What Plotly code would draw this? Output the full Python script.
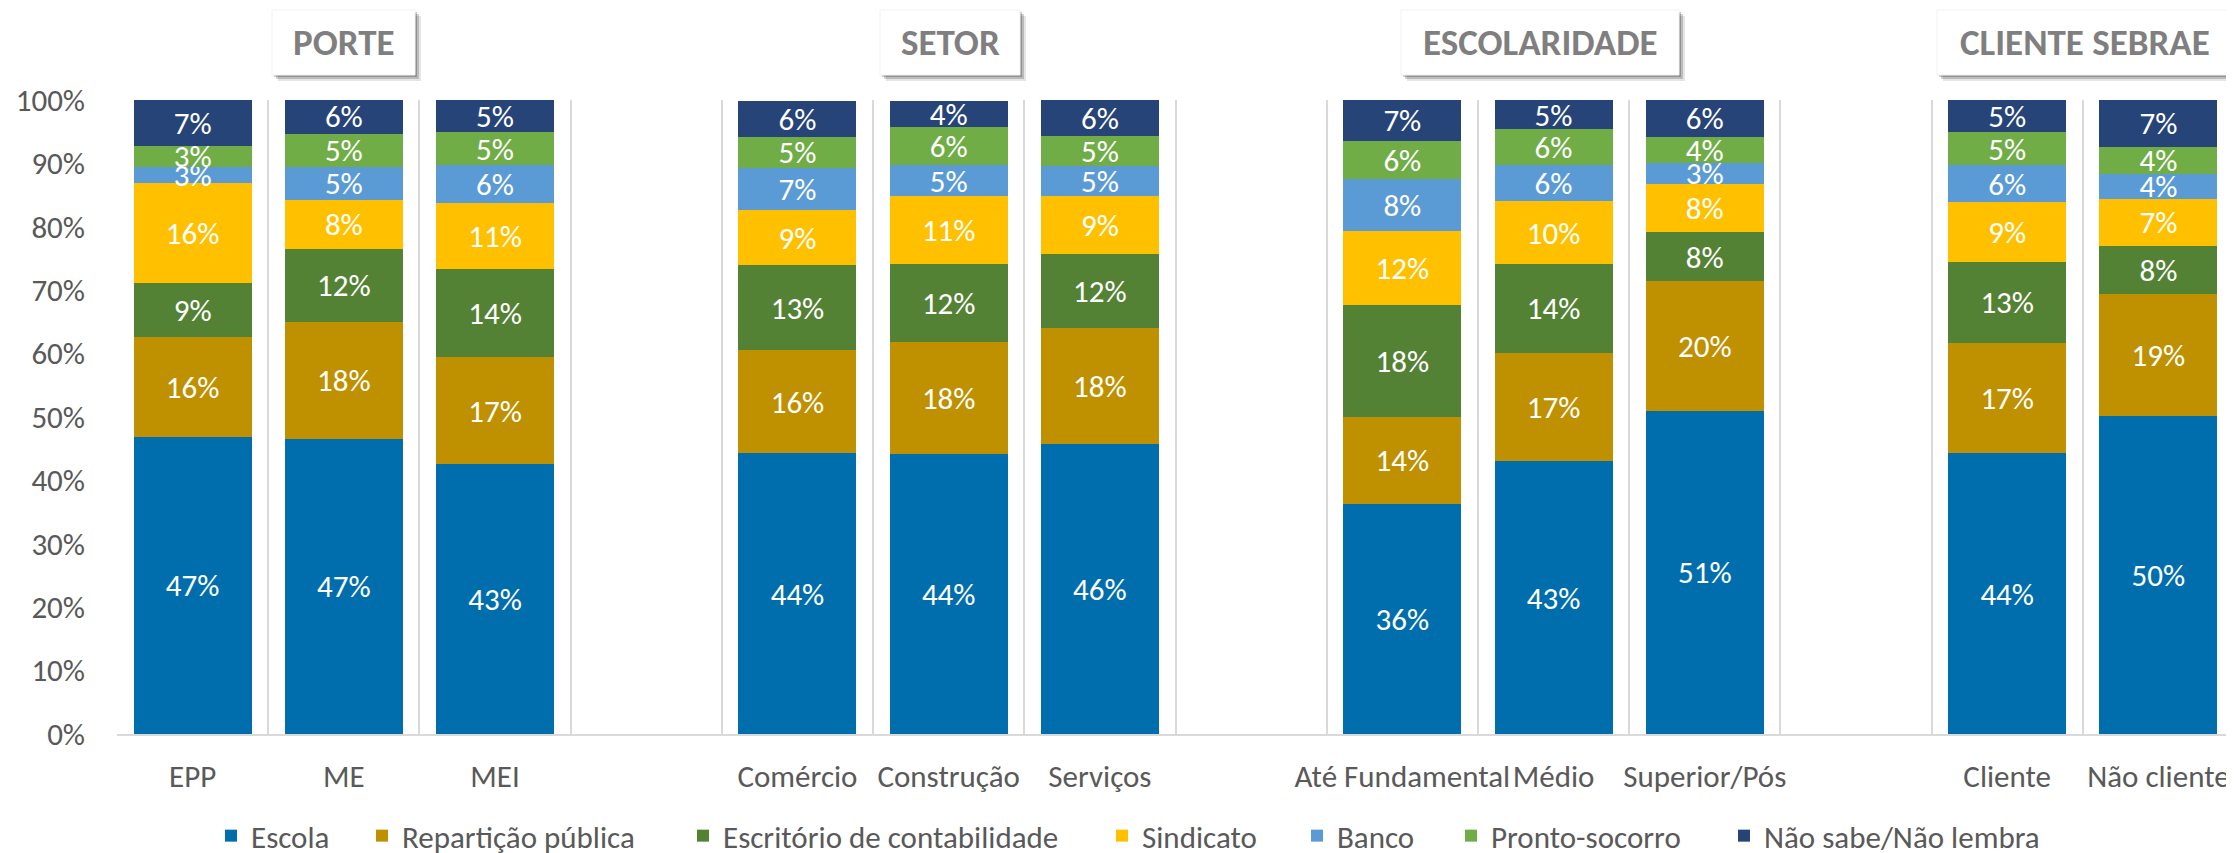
import plotly.graph_objects as go

# ---------------- data ----------------
categories = ["EPP", "ME", "MEI", " ", "Comércio", "Construção", "Serviços", "  ",
              "Até Fundamental", "Médio", "Superior/Pós", "   ", "Cliente", "Não cliente"]

escola = [46.9, 46.6, 42.6, None, 44.3, 44.1, 45.7, None, 36.3, 43.0, 51.0, None, 44.3, 50.1]
reparticao = [15.7, 18.4, 16.8, None, 16.2, 17.7, 18.3, None, 13.7, 17.1, 20.4, None, 17.4, 19.3]
escritorio = [8.6, 11.5, 13.9, None, 13.4, 12.4, 11.7, None, 17.6, 14.1, 7.8, None, 12.8, 7.6]
sindicato = [15.7, 7.8, 10.5, None, 8.8, 10.7, 9.2, None, 11.7, 9.8, 7.6, None, 9.4, 7.4]
banco = [2.6, 5.2, 5.9, None, 6.6, 4.8, 4.7, None, 8.2, 5.8, 3.3, None, 5.8, 4.0]
pronto_socorro = [3.3, 5.1, 5.2, None, 4.9, 6.0, 4.7, None, 6.1, 5.6, 4.1, None, 5.2, 4.2]
nao_sabe = [7.2, 5.6, 5.1, None, 5.7, 4.2, 5.7, None, 6.6, 4.6, 5.8, None, 5.1, 7.4]

series_names = ["Escola", "Repartição pública", "Escritório de contabilidade", "Sindicato",
                "Banco", "Pronto-socorro", "Não sabe/Não lembra"]
series_values = [escola, reparticao, escritorio, sindicato, banco, pronto_socorro, nao_sabe]
series_colors = ["#006EAD", "#BF9000", "#548235", "#FFC000", "#5B9BD5", "#70AD47", "#264478"]

group_titles = ["PORTE", "SETOR", "ESCOLARIDADE", "CLIENTE SEBRAE"]

# ---------------- layout constants (pixels) ----------------
# The page body adds an 8px offset; positions below are given in screen pixels
OFF = 8
W, H = 2234, 853
PLOT_L, PLOT_R, PLOT_T, PLOT_B = 117, 2234, 100, 734
ML = PLOT_L - OFF
MR = W - (PLOT_R - OFF)
MT = PLOT_T - OFF
MB = H - (PLOT_B - OFF)
PW = PLOT_R - PLOT_L
PH = PLOT_B - PLOT_T
FONT = "Calibri, Carlito, Lato, 'Open Sans', sans-serif"
GRAY = "#595959"
FS = 31

def px_x(px):
    return (px - PLOT_L) / PW

def px_y(py):
    return (PLOT_B - py) / PH

legend_square_left = [224, 375, 696, 1115, 1310, 1464, 1737]
legend_y = 836
title_boxes = [(272, 415), (880, 1020), (1401, 1679), (1937, 2232)]
box_top, box_bottom = 10, 75

fig = go.Figure()
for i, (name, vals, col) in enumerate(zip(series_names, series_values, series_colors)):
    lg = "legend" if i == 0 else f"legend{i+1}"
    fig.add_trace(go.Bar(
        x=categories, y=vals, name=name, marker=dict(color=col, line=dict(width=0)),
        texttemplate="%{y:.0f}%", textposition="inside", insidetextanchor="middle",
        textangle=0, constraintext="none",
        textfont=dict(color="white", size=FS, family=FONT),
        legend=lg, hoverinfo="skip"))

layout_legends = {}
for i, sq in enumerate(legend_square_left):
    key = "legend" if i == 0 else f"legend{i+1}"
    layout_legends[key] = dict(
        x=px_x(sq - 13), xanchor="left", xref="paper",
        y=px_y(legend_y), yanchor="middle", yref="paper",
        orientation="h", bgcolor="rgba(0,0,0,0)", borderwidth=0,
        font=dict(family=FONT, size=FS, color=GRAY), traceorder="normal")

shapes = []
annotations = []
for (x0, x1), title in zip(title_boxes, group_titles):
    for off, op in [(6, 0.10), (4, 0.18), (2, 0.22)]:
        shapes.append(dict(type="rect", xref="paper", yref="paper",
                           x0=px_x(x0 + off), x1=px_x(x1 + off),
                           y0=px_y(box_bottom + off), y1=px_y(box_top + off),
                           fillcolor=f"rgba(0,0,0,{op})", line=dict(width=0), layer="above"))
    shapes.append(dict(type="rect", xref="paper", yref="paper",
                       x0=px_x(x0), x1=px_x(x1), y0=px_y(box_bottom), y1=px_y(box_top),
                       fillcolor="white", line=dict(width=1, color="#F2F2F2"), layer="above"))
    annotations.append(dict(text=f"<b>{title}</b>", xref="paper", yref="paper",
                            x=px_x((x0 + x1) / 2), y=px_y((box_top + box_bottom) / 2),
                            xanchor="center", yanchor="middle", showarrow=False,
                            font=dict(family=FONT, size=37, color="#7F7F7F")))

fig.update_layout(
    width=W, height=H,
    margin=dict(l=ML, r=MR, t=MT, b=MB, pad=0, autoexpand=False),
    barmode="stack", bargap=0.22,
    plot_bgcolor="white", paper_bgcolor="white",
    font=dict(family=FONT, size=FS, color=GRAY),
    uniformtext=dict(mode="show", minsize=FS),
    shapes=shapes, annotations=annotations,
    showlegend=True,
    **layout_legends,
)
fig.update_xaxes(type="category", categoryorder="array", categoryarray=categories,
                 tickson="boundaries", showgrid=True, gridcolor="#D9D9D9", gridwidth=1.5,
                 showline=True, linecolor="#D9D9D9", linewidth=1.5,
                 ticks="", tickangle=0, ticklabelstandoff=14,
                 tickfont=dict(family=FONT, size=FS, color=GRAY), fixedrange=True)
fig.update_yaxes(range=[0, 100], dtick=10, ticksuffix="%", showgrid=False, zeroline=False,
                 showline=False, ticks="", ticklabelstandoff=31,
                 tickfont=dict(family=FONT, size=FS, color=GRAY), fixedrange=True)

fig.write_html("out.html")
